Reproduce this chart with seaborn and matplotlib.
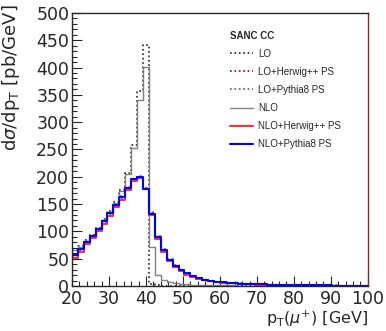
import numpy as np
import pandas as pd
import matplotlib
matplotlib.use("Agg")
import matplotlib.pyplot as plt
import seaborn as sns

# 50 bins of 1.6 GeV between 20 and 100 GeV
bin_edges = np.linspace(20, 100, 51)
bin_centers = 0.5 * (bin_edges[:-1] + bin_edges[1:])

lo = [68, 73, 84, 93, 106, 122, 137, 154, 176, 207, 258, 357, 442, 3, 1.2,
      0.6, 0.4, 0.3, 0.2, 0.2, 0.1, 0.1, 0.1, 0.1, 0.1, 0, 0, 0, 0, 0,
      0, 0, 0, 0, 0, 0, 0, 0, 0, 0, 0, 0, 0, 0, 0, 0, 0, 0, 0, 0]
lo_herwig = [54, 65, 78, 90, 102, 116, 131, 146, 160, 178, 194, 199, 179, 133, 89,
             64, 46, 35, 27.5, 21.5, 16.5, 13, 10.5, 8.6, 7.3, 6.3, 5.4, 4.7, 4.1, 3.6,
             3.2, 2.8, 2.5, 2.2, 2.0, 1.8, 1.6, 1.5, 1.3, 1.2, 1.1, 1.0, 0.9, 0.8, 0.8,
             0.7, 0.6, 0.6, 0.5, 0.5]
lo_pythia = [58, 69, 82, 93, 106, 120, 135, 150, 164, 181, 196, 202, 180, 135, 91,
             67, 49, 38, 29.5, 23.5, 18.5, 14.5, 11.8, 9.7, 8.2, 7.1, 6.1, 5.3, 4.6, 4.1,
             3.6, 3.2, 2.9, 2.6, 2.3, 2.1, 1.9, 1.7, 1.5, 1.4, 1.3, 1.2, 1.1, 1.0, 0.9,
             0.8, 0.7, 0.7, 0.6, 0.6]
nlo = [66, 72, 83, 92, 104, 120, 135, 152, 174, 205, 253, 341, 401, 72, 20,
       11, 7.5, 5.5, 4.2, 3.3, 2.7, 2.2, 1.8, 1.5, 1.3, 1.1, 1.0, 0.9, 0.8, 0.7,
       0.6, 0.6, 0.5, 0.5, 0.4, 0.4, 0.4, 0.3, 0.3, 0.3, 0.3, 0.2, 0.2, 0.2, 0.2,
       0.2, 0.2, 0.1, 0.1, 0.1]
nlo_herwig = [52, 63, 76, 88, 100, 114, 129, 144, 158, 176, 192, 197, 177, 130, 86,
              62, 45, 34, 27, 21, 16, 12.8, 10.3, 8.4, 7.1, 6.1, 5.3, 4.6, 4.0, 3.5,
              3.1, 2.7, 2.4, 2.2, 1.9, 1.7, 1.6, 1.4, 1.3, 1.2, 1.1, 1.0, 0.9, 0.8, 0.7,
              0.7, 0.6, 0.6, 0.5, 0.5]
nlo_pythia = [57, 68, 81, 92, 105, 119, 134, 149, 163, 180, 195, 200, 178, 132, 89,
              66, 48, 37, 29, 23, 18, 14, 11.5, 9.5, 8, 7, 6, 5.2, 4.5, 4,
              3.5, 3.1, 2.8, 2.5, 2.2, 2.0, 1.8, 1.6, 1.5, 1.3, 1.2, 1.1, 1.0, 0.9, 0.8,
              0.8, 0.7, 0.6, 0.6, 0.5]

series = [
    ("LO", lo, "#222222", ":", 1.2),
    ("LO+Herwig++ PS", lo_herwig, "#990000", ":", 1.2),
    ("LO+Pythia8 PS", lo_pythia, "#5050b0", ":", 1.2),
    ("NLO", nlo, "#808080", "-", 1.0),
    ("NLO+Herwig++ PS", nlo_herwig, "#ff3030", "-", 1.5),
    ("NLO+Pythia8 PS", nlo_pythia, "#0000ff", "-", 1.5),
]

sns.set_style("ticks")
plt.rcParams['font.family'] = ['DejaVu Sans']
plt.rcParams['mathtext.fontset'] = 'dejavusans'

fig = plt.figure(figsize=(3.86, 3.31), dpi=100)
ax = fig.add_axes([0.1865, 0.136, 0.7665, 0.825])

for name, vals, col, ls, lw in series:
    df = pd.DataFrame({"pt": bin_centers, "w": vals})
    sns.histplot(data=df, x="pt", weights="w", bins=list(bin_edges), element="step",
                 fill=False, color=col, linestyle=ls, linewidth=lw,
                 label=name, ax=ax)

ax.set_xlim(20, 100)
ax.set_ylim(0, 500)
ax.set_xticks(np.arange(20, 101, 10))
ax.set_xticks(np.arange(20, 101, 2), minor=True)
ax.set_yticks(np.arange(0, 501, 50))
ax.set_yticks(np.arange(0, 501, 10), minor=True)
ax.tick_params(which='both', direction='in', labelsize=12.5, pad=2)
ax.tick_params(axis='x', which='both', pad=3)
ax.tick_params(which='major', length=7, width=0.8)
ax.tick_params(which='minor', length=3.5, width=0.8)
for s in ax.spines.values():
    s.set_linewidth(1.0)
ax.spines['right'].set_color('#7a2a2a')

ax.set_xlabel(r'p$_\mathrm{T}$($\mu^{+}$) [GeV]', fontsize=11.5, loc='right')
ax.xaxis.set_label_coords(1.0, -0.085)
ax.xaxis.label.set(ha='right', va='top')
ax.set_ylabel(r'd$\sigma$/dp$_\mathrm{T}$ [pb/GeV]', fontsize=13, loc='top')
ax.yaxis.set_label_coords(-0.205, 1.03)
ax.yaxis.label.set(ha='right', va='center')

leg = ax.legend(title="SANC CC", loc='upper left', bbox_to_anchor=(0.505, 0.967),
                frameon=False, handlelength=2.3, handletextpad=0.6,
                labelspacing=0.83, alignment='left',
                prop={'family': 'Liberation Sans', 'size': 7},
                title_fontproperties={'family': 'Liberation Sans', 'weight': 'bold',
                                      'size': 7})

fig.savefig("out.png", dpi=100)
